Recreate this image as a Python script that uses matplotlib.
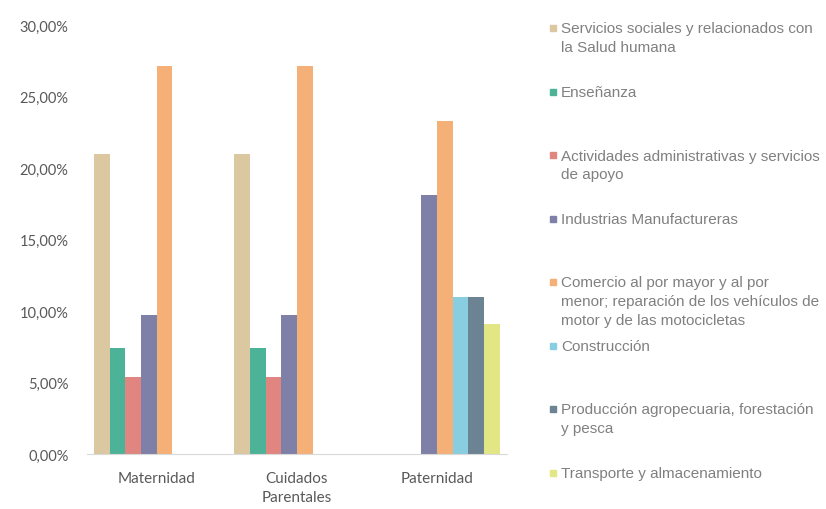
import matplotlib.pyplot as plt
import matplotlib.patches as mpatches
from matplotlib.ticker import FuncFormatter
import numpy as np

categories = ['Maternidad', 'Cuidados\nParentales', 'Paternidad']

series_names = [
    'Servicios sociales y relacionados con\nla Salud humana',
    'Enseñanza',
    'Actividades administrativas y servicios\nde apoyo',
    'Industrias Manufactureras',
    'Comercio al por mayor y al por\nmenor; reparación de los vehículos de\nmotor y de las motocicletas',
    'Construcción',
    'Producción agropecuaria, forestación\ny pesca',
    'Transporte y almacenamiento',
]

# values in % per category (Maternidad, Cuidados Parentales, Paternidad)
salud = [21.0, 21.0, 0]
ensenanza = [7.4, 7.4, 0]
actividades = [5.4, 5.4, 0]
industrias = [9.7, 9.7, 18.1]
comercio = [27.1, 27.1, 23.3]
construccion = [0, 0, 11.0]
produccion = [0, 0, 11.0]
transporte = [0, 0, 9.1]

values = [salud, ensenanza, actividades, industrias, comercio,
          construccion, produccion, transporte]

colors = ['#DCC8A0', '#4DB398', '#E0857F', '#7E80A8',
          '#F5B078', '#88CEE0', '#6B8392', '#E3E684']

fig = plt.figure(figsize=(8.26, 5.10), dpi=100)
ax = fig.add_axes([0.105, 0.108, 0.509, 0.841])

x = np.arange(len(categories))
w = 0.112
for i, vals in enumerate(values):
    ax.bar(x + (i - 3.5) * w, vals, width=w, color=colors[i], linewidth=0)

ax.set_xlim(-0.5, 2.5)
ax.set_ylim(0, 30)
ax.set_yticks(np.arange(0, 31, 5))
ax.yaxis.set_major_formatter(FuncFormatter(lambda v, p: f'{v:.2f}%'.replace('.', ',')))
ax.set_xticks(x)
ax.set_xticklabels(categories, fontfamily='Lato', fontsize=11, color='#595959',
                   linespacing=1.45)
for lab in ax.get_yticklabels():
    lab.set_fontfamily('Lato')
    lab.set_fontsize(10.5)
    lab.set_color('#595959')
ax.tick_params(length=0)
ax.tick_params(axis='x', pad=12)
ax.tick_params(axis='y', pad=13)
for s in ['top', 'right', 'left']:
    ax.spines[s].set_visible(False)
ax.spines['bottom'].set_color('#D9D9D9')

# legend drawn by hand so every entry gets the same slot height
W, H = 826, 510
for i, name in enumerate(series_names):
    yc = 29 + i * 63.5
    fig.patches.append(mpatches.Rectangle((550 / W, 1 - (yc + 3) / H), 6 / W, 6 / H,
                                          transform=fig.transFigure, color=colors[i]))
    fig.text(561 / W, 1 - (yc - 6.5) / H, name, fontsize=11, family='Liberation Sans',
             color='#808080', va='top', ha='left', linespacing=1.42)

fig.savefig('out.png', dpi=100)
